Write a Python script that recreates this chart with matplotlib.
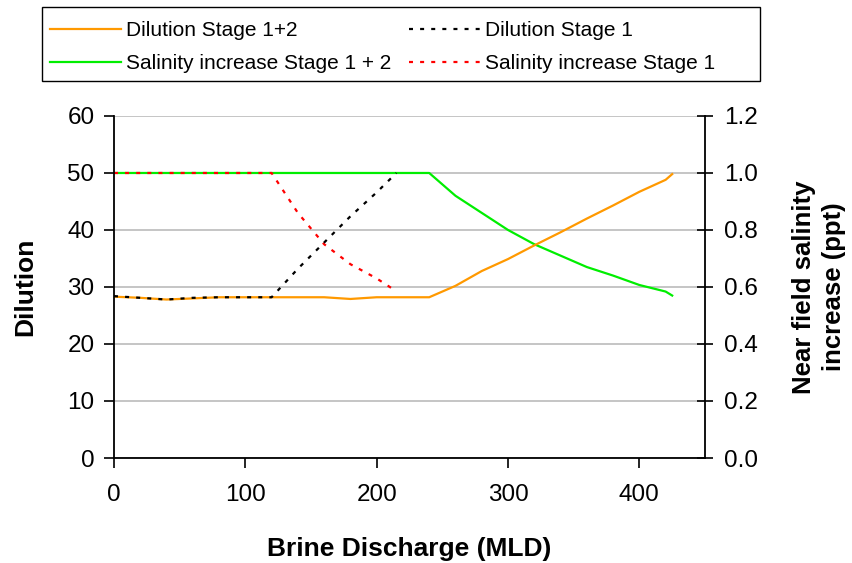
import matplotlib.pyplot as plt
from matplotlib.patches import Rectangle

plt.rcParams['font.family'] = ['Liberation Sans', 'DejaVu Sans']

# Brine discharge (MLD)
x_stage12 = [0, 20, 40, 60, 80, 100, 120, 140, 160, 180, 200, 220, 240,
             260, 280, 300, 320, 340, 360, 380, 400, 420, 425]
dil_stage12 = [28.3, 28.1, 27.8, 28.0, 28.2, 28.2, 28.2, 28.2, 28.2, 27.9, 28.2, 28.2, 28.2,
               30.2, 32.8, 34.9, 37.3, 39.6, 42.0, 44.3, 46.7, 48.8, 49.8]
sal_stage12 = [1.0, 1.0, 1.0, 1.0, 1.0, 1.0, 1.0, 1.0, 1.0, 1.0, 1.0, 1.0, 1.0,
               0.92, 0.86, 0.80, 0.75, 0.71, 0.67, 0.64, 0.607, 0.584, 0.57]

x_stage1 = [0, 20, 40, 60, 80, 100, 120, 140, 160, 180, 200, 215]
dil_stage1 = [28.4, 28.1, 27.8, 28.1, 28.2, 28.2, 28.2, 33.2, 37.8, 42.4, 46.6, 50.0]
sal_stage1 = [1.0, 1.0, 1.0, 1.0, 1.0, 1.0, 1.0, 0.86, 0.75, 0.68, 0.63, 0.585]

fig = plt.figure(figsize=(8.52, 5.63), dpi=100)
ax = fig.add_axes([0.1338, 0.1865, 0.6937, 0.6075])
ax2 = ax.twinx()

dots = (0, (1.8, 3.2))
l1, = ax.plot(x_stage12, dil_stage12, color='#ff9900', lw=1.6, label='Dilution Stage 1+2')
l2, = ax.plot(x_stage1, dil_stage1, color='black', lw=1.6, ls=dots, label='Dilution Stage 1')
l3, = ax2.plot(x_stage12, sal_stage12, color='#00ee00', lw=1.6, label='Salinity increase Stage 1 + 2')
l4, = ax2.plot(x_stage1, sal_stage1, color='red', lw=1.6, ls=dots, label='Salinity increase Stage 1')
ax.set_zorder(ax2.get_zorder() + 1)
ax.patch.set_visible(False)

ax.set_xlim(0, 450)
ax.set_ylim(0, 60)
ax2.set_ylim(0, 1.2)
ax.set_xticks([0, 100, 200, 300, 400])
ax.set_yticks(range(0, 61, 10))
ax2.set_yticks([0, 0.2, 0.4, 0.6, 0.8, 1.0, 1.2])
ax2.set_yticklabels(['0.0', '0.2', '0.4', '0.6', '0.8', '1.0', '1.2'])

# gridlines on the lower axes so the data lines stay on top
ax2.yaxis.grid(True, color='#c0c0c0', lw=1.3)
ax2.set_axisbelow(True)
for a in (ax, ax2):
    a.spines['top'].set_visible(False)
ax.spines['right'].set_visible(False)
for s in ['left', 'bottom']:
    ax.spines[s].set_linewidth(1.3)
ax2.spines['right'].set_linewidth(1.3)
ax2.spines['left'].set_visible(False)
ax2.spines['bottom'].set_visible(False)

ax.tick_params(axis='both', direction='out', length=7, width=1.2, labelsize=17.5, pad=7)
ax.tick_params(axis='x', pad=12)
ax2.tick_params(axis='y', direction='inout', length=12, width=1.2, labelsize=17.5, pad=8)

ax.set_xlabel('Brine Discharge (MLD)', fontsize=19, fontweight='bold', labelpad=22)
ax.set_ylabel('Dilution', fontsize=19, fontweight='bold', labelpad=22)
ax2.set_ylabel('Near field salinity\nincrease (ppt)', fontsize=18.5, fontweight='bold',
               labelpad=24, linespacing=1.3)

W, H = 852.0, 563.0
leg = fig.legend(handles=[l1, l3, l2, l4], ncol=2, loc='upper left',
                 bbox_to_anchor=(42 / W, 1 - 13 / H), fontsize=15, frameon=False,
                 handlelength=3.4, handletextpad=0.25, columnspacing=0.85,
                 borderaxespad=0.0, borderpad=0.38, labelspacing=0.7)
fig.patches.append(Rectangle((42 / W, 1 - 81 / H), (760 - 42) / W, 74 / H,
                             transform=fig.transFigure, fill=False,
                             edgecolor='black', lw=1.0))

fig.savefig('out.png', dpi=100)
